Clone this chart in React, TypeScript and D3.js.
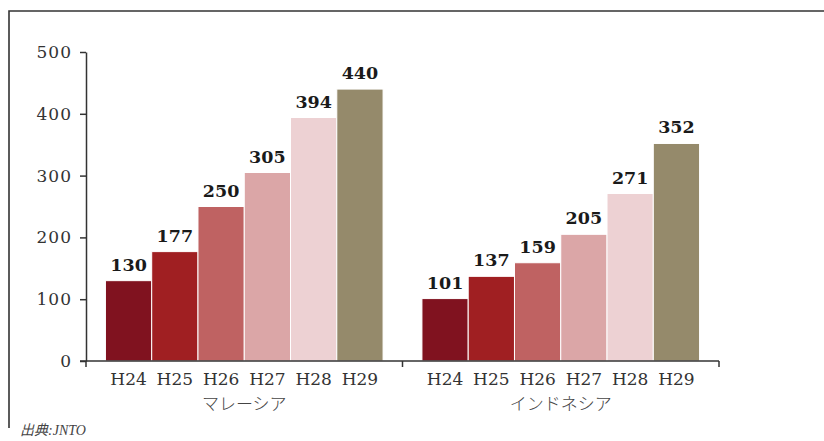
import * as d3 from 'd3'
import { useEffect, useRef } from 'react'

const WIDTH = 824
const HEIGHT = 441

const GROUPS = ['マレーシア', 'インドネシア']
const YEARS = ['H24', 'H25', 'H26', 'H27', 'H28', 'H29']
const MALAYSIA = [130, 177, 250, 305, 394, 440]
const INDONESIA = [101, 137, 159, 205, 271, 352]
const Y_TICKS = [0, 100, 200, 300, 400, 500]
const SOURCE = '出典:JNTO'

const BAR_COLORS = ['#80121f', '#a01f22', '#bf6262', '#dba6a7', '#edd1d3', '#958a6b']

const SERIF = '"DejaVu Serif", serif'
const JP = '"Noto Sans CJK JP", sans-serif'

function drawChart(node: SVGSVGElement) {
  const svg = d3.select(node)
  svg.selectAll('*').remove()

  const series = [MALAYSIA, INDONESIA]

  const x0 = d3.scaleBand<string>().domain(GROUPS).range([86, 719]).paddingInner(0).paddingOuter(0)
  const x1 = d3.scaleBand<string>().domain(YEARS).range([0, x0.bandwidth()]).paddingInner(0).paddingOuter(0.42)
  const y = d3.scaleLinear([0, 500], [361, 52])

  // frame
  svg
    .append('path')
    .attr('d', `M9,${HEIGHT - 13} V11 H${WIDTH}`)
    .attr('fill', 'none')
    .attr('stroke', '#333')
    .attr('stroke-width', 1.6)

  // bars
  GROUPS.forEach((g, gi) => {
    const grp = svg.append('g').attr('transform', `translate(${x0(g)},0)`)
    grp
      .selectAll('rect')
      .data(series[gi])
      .join('rect')
      .attr('x', (_, i) => x1(YEARS[i])!)
      .attr('y', (d) => y(d))
      .attr('width', x1.bandwidth())
      .attr('height', (d) => y(0) - y(d))
      .attr('fill', (_, i) => BAR_COLORS[i])
      .attr('stroke', '#fff')
      .attr('stroke-width', 1)

    grp
      .selectAll('text.val')
      .data(series[gi])
      .join('text')
      .attr('class', 'val')
      .attr('x', (_, i) => x1(YEARS[i])! + x1.bandwidth() / 2)
      .attr('y', (d) => y(d) - 10)
      .attr('text-anchor', 'middle')
      .attr('font-family', SERIF)
      .attr('font-weight', 'bold')
      .attr('font-size', 17.5)
      .attr('fill', '#1a1a1a')
      .text((d) => d)

    grp
      .selectAll('text.yr')
      .data(YEARS)
      .join('text')
      .attr('class', 'yr')
      .attr('x', (d) => x1(d)! + x1.bandwidth() / 2)
      .attr('y', 385)
      .attr('text-anchor', 'middle')
      .attr('font-family', SERIF)
      .attr('font-size', 17)
      .attr('fill', '#333')
      .text((d) => d)

    grp
      .append('text')
      .attr('x', x0.bandwidth() / 2)
      .attr('y', 410)
      .attr('text-anchor', 'middle')
      .attr('font-family', JP)
      .attr('font-size', 17)
      .attr('font-weight', 300)
      .attr('fill', '#444')
      .text(g)
  })

  // y axis
  const yAxis = d3.axisLeft(y).tickValues(Y_TICKS).tickSize(6).tickSizeOuter(0).tickPadding(8)
  svg
    .append('g')
    .attr('transform', 'translate(86,0)')
    .call(yAxis)
    .call((g) => g.select('.domain').attr('stroke', '#333').attr('stroke-width', 1.5))
    .call((g) => g.selectAll('.tick line').attr('stroke', '#333').attr('stroke-width', 1.5))
    .call((g) =>
      g
        .selectAll('.tick text')
        .attr('font-family', SERIF)
        .attr('font-size', 17)
        .attr('letter-spacing', 1)
        .attr('fill', '#333'),
    )

  // x axis: baseline with ticks at group boundaries
  const xAxisG = svg.append('g')
  xAxisG
    .append('line')
    .attr('x1', 80)
    .attr('x2', x0.range()[1])
    .attr('y1', y(0))
    .attr('y2', y(0))
    .attr('stroke', '#333')
    .attr('stroke-width', 1.5)
  const bounds = [...GROUPS.map((g) => x0(g)!), x0.range()[1]]
  xAxisG
    .selectAll('line.tk')
    .data(bounds)
    .join('line')
    .attr('class', 'tk')
    .attr('x1', (d) => d)
    .attr('x2', (d) => d)
    .attr('y1', y(0))
    .attr('y2', y(0) + 6)
    .attr('stroke', '#333')
    .attr('stroke-width', 1.5)

  // source
  svg
    .append('text')
    .attr('x', 20)
    .attr('y', 435)
    .attr('font-family', '"Liberation Serif", "Noto Sans CJK JP", serif')
    .attr('font-style', 'italic')
    .attr('font-size', 14)
    .attr('fill', '#444')
    .text(SOURCE)
}

export default function App() {
  const ref = useRef<SVGSVGElement>(null)
  useEffect(() => {
    if (ref.current) drawChart(ref.current)
  }, [])
  return (
    <svg
      ref={ref}
      width={WIDTH}
      height={HEIGHT}
      viewBox={`0 0 ${WIDTH} ${HEIGHT}`}
      style={{ position: 'absolute', left: 0, top: 0, background: '#fff' }}
    />
  )
}
